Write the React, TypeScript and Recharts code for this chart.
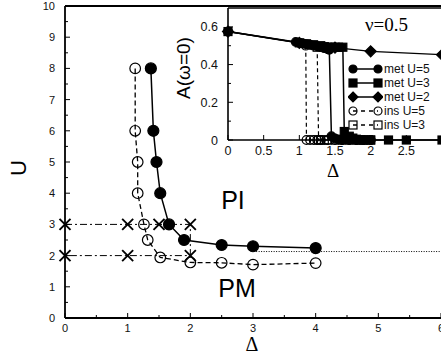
import React from 'react';
import { ComposedChart, Scatter, XAxis, YAxis, ReferenceLine, Legend } from 'recharts';

// ---------- main phase diagram ----------
const metDelta = [1.37, 1.41, 1.46, 1.52, 1.66, 1.9, 2.5, 3.0, 4.0];
const metU = [8, 6, 5, 4, 3, 2.5, 2.34, 2.3, 2.24];
const insDelta = [1.12, 1.12, 1.16, 1.16, 1.26, 1.32, 1.52, 2.0, 2.5, 3.0, 4.0];
const insU = [8, 6, 5, 4, 3, 2.5, 1.94, 1.78, 1.77, 1.71, 1.76];
const crossDelta = [0, 1, 1.5, 2, 2, 1, 0];
const crossU = [3, 3, 3, 3, 2, 2, 2];
const dottedDelta = [3.05, 6];
const dottedU = [2.13, 2.13];
const mainXTicks = [0, 0.5, 1, 1.5, 2, 2.5, 3, 3.5, 4, 4.5, 5, 5.5, 6];
const mainYTicks = [0, 0.5, 1, 1.5, 2, 2.5, 3, 3.5, 4, 4.5, 5, 5.5, 6, 6.5, 7, 7.5, 8, 8.5, 9, 9.5, 10];

// ---------- inset A(w=0) ----------
const met5Delta = [0, 0.95, 1.0, 1.05, 1.1, 1.15, 1.2, 1.25, 1.3, 1.35, 1.4, 1.42, 1.45, 1.5, 1.55, 1.6, 1.7, 1.8, 1.9, 2.0];
const met5A = [0.575, 0.52, 0.516, 0.512, 0.508, 0.505, 0.5, 0.497, 0.492, 0.487, 0.481, 0.478, 0.02, 0.008, 0.003, 0, 0, 0, 0, 0];
const met3Delta = [0, 1.0, 1.1, 1.2, 1.3, 1.35, 1.4, 1.45, 1.5, 1.55, 1.61, 1.63, 1.7, 1.75, 1.8, 1.85, 1.9, 2.0, 2.25, 2.5, 3.0];
const met3A = [0.575, 0.515, 0.51, 0.505, 0.5, 0.495, 0.492, 0.492, 0.492, 0.492, 0.492, 0.045, 0.02, 0.01, 0.004, 0, 0, 0, 0, 0, 0];
const met2Delta = [0, 1.0, 1.5, 2.0, 3.0];
const met2A = [0.575, 0.515, 0.49, 0.47, 0.452];
const ins5Delta = [1.09, 1.1, 1.15, 1.2, 1.25, 1.3, 1.4, 1.5, 1.6, 1.7, 1.8, 1.9, 2.0];
const ins5A = [0.5, 0, 0, 0, 0, 0, 0, 0, 0, 0, 0, 0, 0];
const ins3Delta = [1.25, 1.27, 1.3, 1.35, 1.4, 1.5, 1.6, 1.7, 1.8, 1.9, 2.0];
const ins3A = [0.492, 0, 0, 0, 0, 0, 0, 0, 0, 0, 0];
const insetXTicks = [0, 0.5, 1, 1.5, 2, 2.5];
const insetYTicks = [0, 0.1, 0.2, 0.3, 0.4, 0.5, 0.6];
const insetYLabels = ['0', '', '0.2', '', '0.4', '', '0.6'];

const zip = (xs: number[], ys: number[]) => xs.map((x, i) => ({ x, y: ys[i] }));

const SANS = '"Liberation Sans", Arial, Helvetica, sans-serif';
const SERIF = '"Liberation Serif", "Times New Roman", serif';

type MarkerKind = 'circle' | 'square' | 'diamond' | 'cross';

function drawMarker(kind: MarkerKind, cx: number, cy: number, r: number, filled: boolean, sw = 1.2) {
  const fill = filled ? '#000' : 'none';
  if (kind === 'circle') return <circle cx={cx} cy={cy} r={r} fill={fill} stroke="#000" strokeWidth={sw} />;
  if (kind === 'square')
    return <rect x={cx - r} y={cy - r} width={2 * r} height={2 * r} fill={fill} stroke="#000" strokeWidth={sw} />;
  if (kind === 'diamond')
    return (
      <polygon
        points={`${cx},${cy - r} ${cx + r},${cy} ${cx},${cy + r} ${cx - r},${cy}`}
        fill={fill}
        stroke="#000"
        strokeWidth={sw}
      />
    );
  return (
    <g stroke="#000" strokeWidth={1.9}>
      <line x1={cx - r} y1={cy - r} x2={cx + r} y2={cy + r} />
      <line x1={cx - r} y1={cy + r} x2={cx + r} y2={cy - r} />
    </g>
  );
}

const shape = (kind: MarkerKind, r: number, filled: boolean) => (p: any) => {
  if (p.cx == null || p.cy == null) return <g />;
  return drawMarker(kind, p.cx, p.cy, r, filled);
};

const isMul = (v: number, step: number) => Math.abs(v / step - Math.round(v / step)) < 1e-6;

const makeXTick = (majorStep: number, fs: number, off: number, labelFn: (v: number) => string) => (p: any) => {
  const { x, y, payload } = p;
  const v = payload.value as number;
  const major = isMul(v, majorStep);
  return (
    <g>
      <line x1={x} x2={x} y1={y} y2={y - (major ? 5 : 3)} stroke="#000" strokeWidth={1} />
      {major && (
        <text x={x} y={y + off} textAnchor="middle" fontSize={fs} fontFamily={SANS} fill="#111">
          {labelFn(v)}
        </text>
      )}
    </g>
  );
};

const makeYTick = (fs: number, gap: number, labelFn: (v: number, i: number) => string, isMajor: (v: number) => boolean) => (p: any) => {
  const { x, y, payload, index } = p;
  const v = payload.value as number;
  const major = isMajor(v);
  const lab = labelFn(v, index);
  return (
    <g>
      <line x1={x} x2={x + (major ? 5 : 3)} y1={y} y2={y} stroke="#000" strokeWidth={1} />
      {lab !== '' && (
        <text x={x - gap} y={y + fs * 0.36} textAnchor="end" fontSize={fs} fontFamily={SANS} fill="#111">
          {lab}
        </text>
      )}
    </g>
  );
};

const legendSeries: { name: string; kind: MarkerKind; filled: boolean; dashed: boolean }[] = [
  { name: 'met U=5', kind: 'circle', filled: true, dashed: false },
  { name: 'met U=3', kind: 'square', filled: true, dashed: false },
  { name: 'met U=2', kind: 'diamond', filled: true, dashed: false },
  { name: 'ins U=5', kind: 'circle', filled: false, dashed: true },
  { name: 'ins U=3', kind: 'square', filled: false, dashed: true },
];

const LegendContent = () => (
  <div style={{ fontFamily: SANS, fontSize: 12, color: '#111', lineHeight: '14px' }}>
    {legendSeries.map((s) => (
      <div key={s.name} style={{ display: 'flex', alignItems: 'center', height: 14 }}>
        <svg width={35} height={14} style={{ display: 'block' }}>
          <line
            x1={5}
            x2={30}
            y1={7}
            y2={7}
            stroke="#000"
            strokeWidth={1.5}
            strokeDasharray={s.dashed ? '4 4' : undefined}
          />
          {drawMarker(s.kind, 5, 7, s.kind === 'diamond' ? 5 : 4, s.filled)}
          {drawMarker(s.kind, 30, 7, s.kind === 'diamond' ? 5 : 4, s.filled)}
        </svg>
        <span style={{ whiteSpace: 'nowrap', marginLeft: 1 }}>{s.name}</span>
      </div>
    ))}
  </div>
);

export default function App() {
  return (
    <div style={{ position: 'fixed', left: 0, top: 0, width: 441, height: 356, overflow: 'hidden', background: '#fff' }}>
      {/* main chart */}
      <div style={{ position: 'absolute', left: 0, top: 0 }}>
        <ComposedChart width={460} height={356} margin={{ top: 6, right: 19, left: 0, bottom: 0 }}>
          <XAxis
            type="number"
            dataKey="x"
            domain={[0, 6]}
            ticks={mainXTicks}
            interval={0}
            height={38}
            tickSize={0}
            tickMargin={0}
            tickLine={false}
            axisLine={{ stroke: '#000', strokeWidth: 1.8 }}
            tick={makeXTick(1, 11, 14, (v) => String(v))}
          />
          <YAxis
            type="number"
            dataKey="y"
            domain={[0, 10]}
            ticks={mainYTicks}
            interval={0}
            width={65}
            tickSize={0}
            tickMargin={0}
            tickLine={false}
            axisLine={{ stroke: '#000', strokeWidth: 1.8 }}
            tick={makeYTick(11, 10, (v) => (isMul(v, 1) ? String(v) : ''), (v) => isMul(v, 1))}
          />
          <ReferenceLine y={10} stroke="#000" strokeWidth={1.8} />
          <Scatter
            data={zip(dottedDelta, dottedU)}
            line={{ stroke: '#000', strokeWidth: 1, strokeDasharray: '1 1.5' }}
            lineType="joint"
            shape={() => <g />}
            isAnimationActive={false}
          />
          <Scatter
            data={zip(crossDelta, crossU)}
            line={{ stroke: '#000', strokeWidth: 1, strokeDasharray: '7 3 2 3' }}
            lineType="joint"
            shape={shape('cross', 5.5, true)}
            isAnimationActive={false}
          />
          <Scatter
            data={zip(insDelta, insU)}
            line={{ stroke: '#000', strokeWidth: 1.3, strokeDasharray: '5 3' }}
            lineType="joint"
            shape={shape('circle', 5.3, false)}
            isAnimationActive={false}
          />
          <Scatter
            data={zip(metDelta, metU)}
            line={{ stroke: '#000', strokeWidth: 1.5 }}
            lineType="joint"
            shape={shape('circle', 5.5, true)}
            isAnimationActive={false}
          />
        </ComposedChart>
      </div>

      {/* region labels */}
      <div style={{ position: 'absolute', left: 233, top: 200, transform: 'translate(-50%,-50%)', fontFamily: SANS, fontSize: 25, lineHeight: 1 }}>PI</div>
      <div style={{ position: 'absolute', left: 237, top: 288, transform: 'translate(-50%,-50%)', fontFamily: SANS, fontSize: 25, lineHeight: 1 }}>PM</div>
      <div style={{ position: 'absolute', left: 19, top: 168, transform: 'translate(-50%,-50%) rotate(-90deg)', fontFamily: SANS, fontSize: 22, lineHeight: 1 }}>U</div>
      <div style={{ position: 'absolute', left: 252, top: 344, transform: 'translate(-50%,-50%)', fontFamily: SERIF, fontSize: 20, lineHeight: 1 }}>Δ</div>

      {/* inset background */}
      <div style={{ position: 'absolute', left: 228, top: 8, width: 220, height: 132, background: '#fff' }} />

      {/* inset chart */}
      <div style={{ position: 'absolute', left: 150, top: 0 }}>
        <ComposedChart width={310} height={180} margin={{ top: 8, right: 18, left: 0, bottom: 0 }}>
          <XAxis
            type="number"
            dataKey="x"
            domain={[0, 3]}
            ticks={insetXTicks}
            interval={0}
            height={40}
            tickSize={0}
            tickMargin={0}
            tickLine={false}
            axisLine={{ stroke: '#000', strokeWidth: 1.6 }}
            tick={makeXTick(0.5, 12.5, 15, (v) => String(v))}
          />
          <YAxis
            type="number"
            dataKey="y"
            domain={[0, 0.7]}
            ticks={insetYTicks}
            interval={0}
            width={78}
            tickSize={0}
            tickMargin={0}
            tickLine={false}
            axisLine={{ stroke: '#000', strokeWidth: 1.6 }}
            tick={makeYTick(12.5, 10, (_v, i) => insetYLabels[i] ?? '', (v) => isMul(v, 0.2))}
          />
          <ReferenceLine y={0.7} stroke="#000" strokeWidth={1.6} />
          <Scatter
            name="ins U=5"
            data={zip(ins5Delta, ins5A)}
            line={{ stroke: '#000', strokeWidth: 1.2, strokeDasharray: '4 3' }}
            lineType="joint"
            shape={shape('circle', 4.3, false)}
            isAnimationActive={false}
          />
          <Scatter
            name="ins U=3"
            data={zip(ins3Delta, ins3A)}
            line={{ stroke: '#000', strokeWidth: 1.2, strokeDasharray: '4 3' }}
            lineType="joint"
            shape={shape('square', 4, false)}
            isAnimationActive={false}
          />
          <Scatter
            name="met U=2"
            data={zip(met2Delta, met2A)}
            line={{ stroke: '#000', strokeWidth: 1.3 }}
            lineType="joint"
            shape={shape('diamond', 5.5, true)}
            isAnimationActive={false}
          />
          <Scatter
            name="met U=3"
            data={zip(met3Delta, met3A)}
            line={{ stroke: '#000', strokeWidth: 1.5 }}
            lineType="joint"
            shape={shape('square', 4, true)}
            isAnimationActive={false}
          />
          <Scatter
            name="met U=5"
            data={zip(met5Delta, met5A)}
            line={{ stroke: '#000', strokeWidth: 1.5 }}
            lineType="joint"
            shape={shape('circle', 4.3, true)}
            isAnimationActive={false}
          />
          <Legend
            layout="horizontal"
            verticalAlign="middle"
            align="center"
            content={() => <LegendContent />}
            wrapperStyle={{ position: 'absolute', left: 198, top: 62, width: 'auto', height: 'auto' }}
          />
        </ComposedChart>
      </div>

      {/* inset texts */}
      <div style={{ position: 'absolute', left: 183, top: 68, transform: 'translate(-50%,-50%) rotate(-90deg)', fontFamily: SANS, fontSize: 19, lineHeight: 1, whiteSpace: 'nowrap' }}>A(ω=0)</div>
      <div style={{ position: 'absolute', left: 333, top: 170, transform: 'translate(-50%,-50%)', fontFamily: SERIF, fontSize: 19, lineHeight: 1 }}>Δ</div>
      <div style={{ position: 'absolute', left: 365, top: 24, transform: 'translateY(-50%)', fontFamily: SERIF, fontSize: 19, lineHeight: 1, whiteSpace: 'nowrap' }}>ν=0.5</div>
    </div>
  );
}
